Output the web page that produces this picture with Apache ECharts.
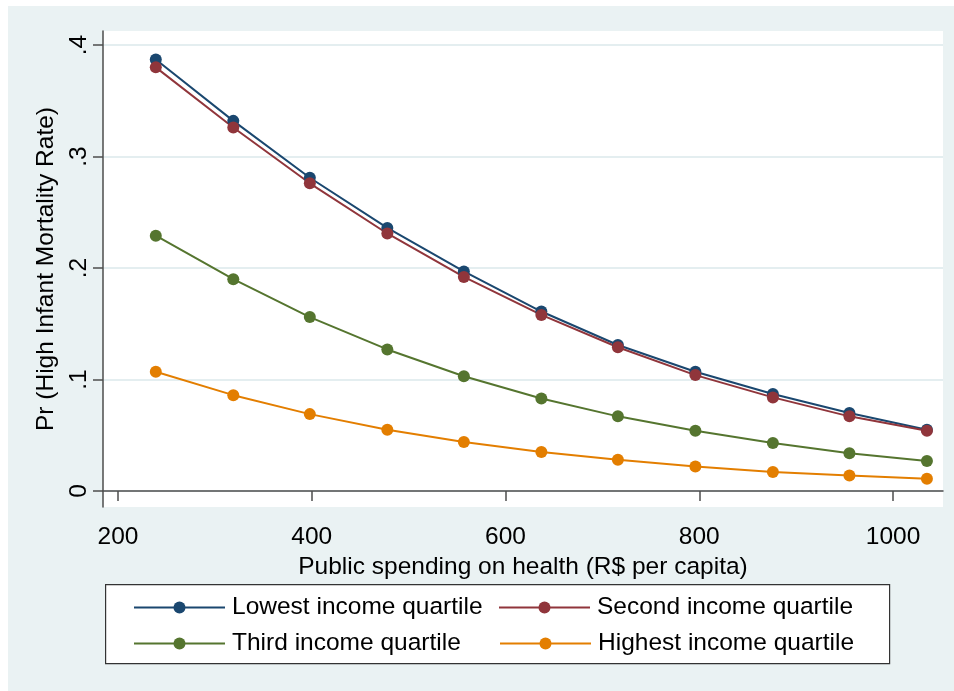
<!DOCTYPE html>
<html>
<head>
<meta charset="utf-8">
<script src="https://cdn.jsdelivr.net/npm/echarts@6/dist/echarts.min.js"></script>
<style>
  html, body { margin: 0; padding: 0; background: #fff; }
  #bg { position: absolute; left: 8px; top: 6px; width: 946px; height: 685px; background: #eaf2f3; }
  #main { position: absolute; left: 0; top: 0; width: 954px; height: 691px; }
</style>
</head>
<body>
<div id="bg"></div>
<div id="main"></div>
<script>
// spending levels (R$ per capita)
var spending = [239, 319, 398, 478, 557, 637, 716, 796, 876, 955, 1035];

var lowest  = [0.387, 0.332, 0.281, 0.236, 0.197, 0.161, 0.131, 0.107, 0.087, 0.070, 0.055];
var second  = [0.380, 0.326, 0.276, 0.231, 0.192, 0.158, 0.129, 0.104, 0.084, 0.067, 0.054];
var third   = [0.229, 0.190, 0.156, 0.127, 0.103, 0.083, 0.067, 0.054, 0.043, 0.034, 0.027];
var highest = [0.107, 0.086, 0.069, 0.055, 0.044, 0.035, 0.028, 0.022, 0.017, 0.014, 0.011];

var xTicks = [200, 400, 600, 800, 1000];
var yTicks = [0, 0.1, 0.2, 0.3, 0.4];

var names = ['Lowest income quartile', 'Second income quartile', 'Third income quartile', 'Highest income quartile'];
var colors = ['#1a476f', '#90353b', '#55752f', '#e37e00'];

var font = 'Arial, "Liberation Sans", sans-serif';
var fs = 24.5;

function pairs(ys) {
    return spending.map(function (x, i) { return [x, ys[i]]; });
}

var chart = echarts.init(document.getElementById('main'));

function legendAt(name, left, top) {
    return {
        data: [name],
        left: left,
        top: top,
        padding: 0,
        itemWidth: 91,
        itemHeight: 15,
        selectedMode: false,
        textStyle: { fontSize: fs, color: '#000', fontFamily: font, padding: [0, 0, 0, 2] }
    };
}

var allData = [lowest, second, third, highest];

var option = {
    animation: false,
    textStyle: { fontFamily: font },
    grid: {
        left: 103, right: 11, top: 31, bottom: 184,
        show: true, backgroundColor: '#fff', borderWidth: 0
    },
    graphic: [{
        type: 'rect', left: 105, top: 584, z: 1,
        shape: { width: 784, height: 79 },
        style: { fill: '#fff', stroke: '#333', lineWidth: 1.2 }
    }],
    legend: [
        legendAt(names[0], 133, 595),
        legendAt(names[1], 498, 595),
        legendAt(names[2], 133, 631),
        legendAt(names[3], 499, 631)
    ],
    xAxis: {
        type: 'value',
        min: 184.5, max: 1051.6,
        name: 'Public spending on health (R$ per capita)',
        nameLocation: 'middle',
        nameGap: 43,
        nameTextStyle: { fontSize: fs, color: '#000', fontFamily: font },
        axisLine: { show: true, lineStyle: { color: '#4d4d4d', width: 1.5 } },
        axisTick: { show: true, length: 10, customValues: xTicks, lineStyle: { color: '#4d4d4d', width: 1.5 } },
        axisLabel: {
            customValues: xTicks, fontSize: fs, color: '#000', margin: 18, fontFamily: font,
            formatter: function (v) { return String(v); }
        },
        splitLine: { show: false }
    },
    yAxis: {
        type: 'value',
        min: -0.0143, max: 0.4126,
        name: 'Pr (High Infant Mortality Rate)',
        nameLocation: 'middle',
        nameRotate: 90,
        nameGap: 31,
        nameTextStyle: { fontSize: fs, color: '#000', fontFamily: font },
        axisLine: { show: true, lineStyle: { color: '#4d4d4d', width: 1.5 } },
        axisTick: { show: true, length: 10, customValues: yTicks, lineStyle: { color: '#4d4d4d', width: 1.5 } },
        axisLabel: {
            customValues: yTicks, rotate: 90, fontSize: fs, color: '#000', margin: 11, fontFamily: font,
            formatter: function (v) { return v === 0 ? '0' : String(v).replace(/^0/, ''); }
        },
        splitLine: { show: true, lineStyle: { color: '#e4eef0', width: 2 } }
    },
    series: names.map(function (n, i) {
        return {
            name: n,
            type: 'line',
            data: pairs(allData[i]),
            symbol: 'circle',
            symbolSize: 12,
            color: colors[i],
            lineStyle: { width: 2, color: colors[i] },
            itemStyle: { color: colors[i] }
        };
    })
};

chart.setOption(option);
</script>
</body>
</html>
